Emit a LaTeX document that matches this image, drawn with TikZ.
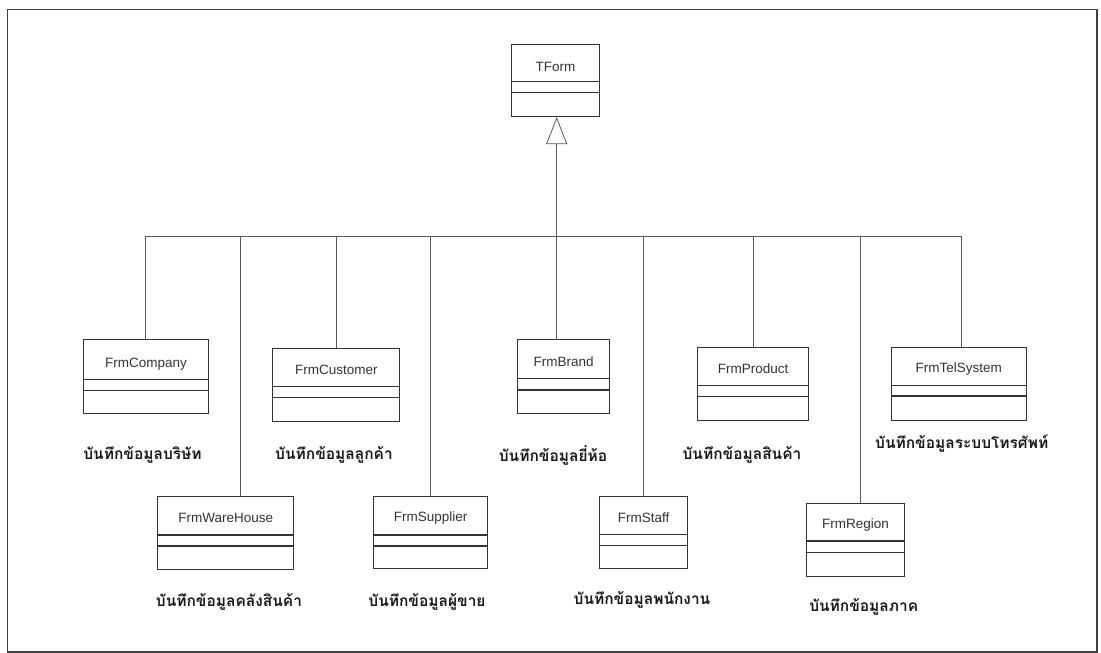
\documentclass[tikz,border=0pt]{standalone}
\usepackage{fontspec}
\setmainfont{Liberation Sans}
\newfontfamily\thai[Script=Thai]{Loma}
\usetikzlibrary{arrows.meta,calc}
\tikzset{
  clsbox/.style={draw=black!80, line width=1.1pt, inner sep=0pt, anchor=north west},
  clsname/.style={font=\fontsize{13.5}{15}\selectfont, text=black!80, inner sep=0pt},
  thailabel/.style={font=\thai\bfseries\fontsize{15.5}{18}\selectfont, text=black!90, inner sep=0pt},
  conn/.style={draw=black!65, line width=0.8pt},
  gen/.style={conn, -{Triangle[open, length=27pt, width=21pt, line width=0.8pt]}},
  frame/.style={draw=black!75, line width=1.6pt}
}
% \umlcls{id}{x1}{y1}{x2}{y2}{sep1}{sep2}{texty}{name}
\newcommand\umlcls[9]{%
  \node[clsbox, minimum width=#4pt-#2pt, minimum height=#5pt-#3pt] (#1) at (#2,#3) {};
  \draw[draw=black!80, line width=1.1pt] (#2,#6) -- (#4,#6);
  \draw[draw=black!80, line width=1.1pt] (#2,#7) -- (#4,#7);
  \node[clsname] (#1-name) at ($(#1.north)+(0,#8-#3)$) {#9};
}
\begin{document}
\begin{tikzpicture}[x=1pt,y=-1pt]
\useasboundingbox (0,0) rectangle (1101,653);
\draw[frame] (7.5,9.5) rectangle (1097,652);

% parent
\umlcls{tform}{511}{44}{599}{116}{81.7}{92.7}{67}{TForm}

% children row 1
\umlcls{company}{82.7}{339.3}{208.3}{413.3}{379.3}{390.7}{364}{FrmCompany}
\umlcls{customer}{272.3}{347.7}{399.3}{421}{386.7}{397.7}{370}{FrmCustomer}
\umlcls{brand}{516.7}{339}{609.3}{412.7}{378.3}{390}{361.5}{FrmBrand}
\umlcls{product}{696.7}{347.3}{808.3}{420}{385.7}{396.7}{369}{FrmProduct}
\umlcls{telsystem}{890.7}{346.7}{1025.7}{420}{385.7}{396}{369}{FrmTelSystem}

% children row 2
\umlcls{warehouse}{157.3}{496}{293.3}{569.3}{535}{546}{518}{FrmWareHouse}
\umlcls{supplier}{372.7}{496}{487.3}{568.3}{535}{546}{518}{FrmSupplier}
\umlcls{staff}{599.3}{496}{686.7}{568.3}{534.3}{545.3}{517.5}{FrmStaff}
\umlcls{region}{805.7}{503.3}{904.3}{576}{541}{552.7}{525}{FrmRegion}

% Thai labels
\node[thailabel] (lcompany) at (142.5,455) {บันทึกข้อมูลบริษัท};
\node[thailabel] (lcustomer) at (334,455) {บันทึกข้อมูลลูกค้า};
\node[thailabel] (lbrand) at (553,455) {บันทึกข้อมูลยี่ห้อ};
\node[thailabel] (lproduct) at (742,455) {บันทึกข้อมูลสินค้า};
\node[thailabel] (ltelsystem) at (961.7,443.5) {บันทึกข้อมูลระบบโทรศัพท์};
\node[thailabel] (lwarehouse) at (229,601.7) {บันทึกข้อมูลคลังสินค้า};
\node[thailabel] (lsupplier) at (427,601.7) {บันทึกข้อมูลผู้ขาย};
\node[thailabel] (lstaff) at (642,600) {บันทึกข้อมูลพนักงาน};
\node[thailabel] (lregion) at (863.7,607.3) {บันทึกข้อมูลภาค};

% bus junctions
\coordinate (jtop) at (556.7,236);
\coordinate (jcompany) at (145,236);
\coordinate (jwarehouse) at (240,236);
\coordinate (jcustomer) at (336,236);
\coordinate (jsupplier) at (430.7,236);
\coordinate (jbrand) at (556.7,236);
\coordinate (jstaff) at (643.3,236);
\coordinate (jproduct) at (753.3,236);
\coordinate (jregion) at (860,236);
\coordinate (jtelsystem) at (961,236);

\draw[conn] (jcompany) -- (jtelsystem);
\draw[gen] (jtop) -- (tform.south -| jtop);
\foreach \c in {company,warehouse,customer,supplier,brand,staff,product,region,telsystem}{
  \draw[conn] (j\c) -- (\c.north -| j\c);
}
\end{tikzpicture}
\end{document}
